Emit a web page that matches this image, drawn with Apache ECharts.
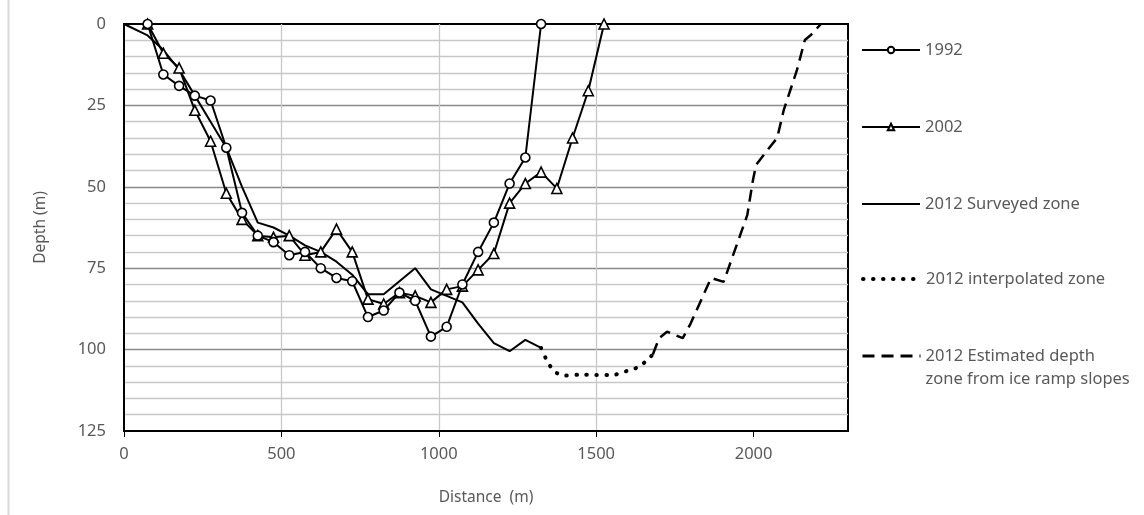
<!DOCTYPE html>
<html>
<head>
<meta charset="utf-8">
<script src="https://cdn.jsdelivr.net/npm/echarts@6/dist/echarts.min.js"></script>
<style>
html,body{margin:0;padding:0;background:#fff;}
#chart{width:1144px;height:515px;}
</style>
</head>
<body>
<div id="chart"></div>
<script>
// ---- data ----
const seriesNames = ['1992', '2002', '2012 Surveyed zone', '2012 interpolated zone', '2012 Estimated depth zone from ice ramp slopes'];

const dist1992 = [75,125,175,225,275,325,375,425,475,525,575,625,675,725,775,825,875,925,975,1025,1075,1125,1175,1225,1275,1325];
const depth1992 = [0,15.5,19,22,23.5,38,58,65,67,71,70,75,78,79,90,88,82.5,85,96,93,80,70,61,49,41,0];

const dist2002 = [75,125,175,225,275,325,375,425,475,525,575,625,675,725,775,825,875,925,975,1025,1075,1125,1175,1225,1275,1325,1375,1425,1475,1525];
const depth2002 = [0,9,13.5,26.5,36,52,60,65,65.5,65,71,70,63,70,84.5,86,82.5,83.5,85.5,81.5,80.5,75.5,70.5,55,49,45.5,50.5,35,20.5,0];

const dist2012s = [0,75,125,175,225,275,325,375,425,475,525,575,625,675,725,775,825,875,925,975,1025,1075,1125,1175,1225,1275,1325];
const depth2012s = [0,3.5,8,14,22,30,38,50,61,62.5,65,68,70,73,77,83,83,79,75,81.5,83.5,85.5,92,98,100.5,97,99.5];

const dist2012i = [1325,1340,1355,1375,1400,1450,1500,1550,1600,1635,1660,1680];
const depth2012i = [99.5,102.7,105.2,107.2,108,107.7,107.8,107.8,106.5,105.3,103.4,101.5];

const dist2012e = [1680,1700,1725,1750,1775,1800,1865,1905,1980,1998,2008,2050,2075,2096,2138,2163,2182,2214];
const depth2012e = [101.5,96.5,94.5,95.5,96.5,92,78,79.2,58.7,48,43.3,38,35,26.4,14.1,4.9,3.4,0];

const xTicks = [0,500,1000,1500,2000];
const yTicks = [0,25,50,75,100,125];

// ---- build ----
function pairs(xs, ys){ return xs.map((x,i)=>[x, ys[i]]); }

const major = '#8a8a8a', minor = '#c8c8c8';
const textColor = '#595959';
const fontFamily = "'Noto Sans', 'Liberation Sans', sans-serif";

const chart = echarts.init(document.getElementById('chart'), null, {renderer:'canvas'});

// legend: one component per entry so each can be placed like the reference
const legendCenters = [50, 127, 204, 279, 356];
const legendFont = 16.5;
const legends = seriesNames.map((n, i) => {
  const twoLine = i === 4;
  const lh = twoLine ? 23 : 20;
  const top = twoLine ? legendCenters[i] - 1.5 * lh : legendCenters[i] - lh / 2;
  const hideSymbol = i >= 2;
  const leg = {
    show: true,
    left: 861,
    top: top,
    padding: 0,
    orient: 'vertical',
    itemWidth: 58,
    itemHeight: 8,
    itemGap: 0,
    selectedMode: false,
    data: [hideSymbol ? {name: n, itemStyle: {opacity: 0}} : {name: n}],
    formatter: (name) => twoLine ? ' \n2012 Estimated depth\nzone from ice ramp slopes' : name,
    textStyle: {color: textColor, fontSize: legendFont, fontFamily, lineHeight: lh}
  };
  if (i === 3) leg.lineStyle = {width: 4, cap: 'round', type: [0.5, 9.5]};
  if (i === 4) leg.lineStyle = {width: 3, type: [12, 7]};
  return leg;
});

const option = {
  animation: false,
  backgroundColor: '#fff',
  grid: {left:124, top:24, width:724, height:407, show:true, borderColor:'#000', borderWidth:2, backgroundColor:'transparent'},
  legend: legends,
  graphic: [{type:'line', shape:{x1:8.5,y1:0,x2:8.5,y2:515}, style:{stroke:'#d9d9d9', lineWidth:2}}],
  xAxis: {
    type:'value', min:0, max:2300, interval:100,
    name:'Distance  (m)', nameLocation:'middle', nameGap:59,
    nameTextStyle:{color:textColor, fontSize:15.5, fontFamily},
    axisLine:{show:true, onZero:false, lineStyle:{color:'#000', width:2}},
    axisTick:{show:true, inside:false, length:6, customValues:xTicks, lineStyle:{color:'#000', width:1}},
    axisLabel:{show:true, customValues:xTicks, margin:15, color:textColor, fontSize:16.5, fontFamily,
               formatter:(v)=>String(v)},
    splitLine:{show:true, showMinLine:false, showMaxLine:false, lineStyle:{color:[minor,minor,minor,minor,major], width:1.3}}
  },
  yAxis: {
    type:'value', inverse:true, min:0, max:125, interval:5,
    name:'Depth (m)', nameLocation:'middle', nameGap:75, nameRotate:90,
    nameTextStyle:{color:textColor, fontSize:15.5, fontFamily},
    axisLine:{show:true, onZero:false, lineStyle:{color:'#000', width:2}},
    axisTick:{show:false},
    axisLabel:{show:true, customValues:yTicks, margin:18, color:textColor, fontSize:16.5, fontFamily,
               formatter:(v)=>String(v)},
    splitLine:{show:true, showMinLine:false, showMaxLine:false, lineStyle:{color:[minor,minor,minor,minor,major], width:1.3}}
  },
  series: [
    {name:seriesNames[0], type:'line', data:pairs(dist1992, depth1992), symbol:'circle', symbolSize:9,
     itemStyle:{color:'#fff', borderColor:'#000', borderWidth:1.6}, lineStyle:{color:'#000', width:2}, z:4},
    {name:seriesNames[1], type:'line', data:pairs(dist2002, depth2002), symbol:'triangle', symbolSize:10,
     itemStyle:{color:'#fff', borderColor:'#000', borderWidth:1.6}, lineStyle:{color:'#000', width:2}, z:3},
    {name:seriesNames[2], type:'line', data:pairs(dist2012s, depth2012s), symbol:'none', showSymbol:false,
     itemStyle:{color:'#000'}, lineStyle:{color:'#000', width:2}, z:2},
    {name:seriesNames[3], type:'line', data:pairs(dist2012i, depth2012i), symbol:'none', showSymbol:false, smooth:0.3,
     itemStyle:{color:'#000'}, lineStyle:{color:'#000', width:4, type:[0.5,9.5], cap:'round'}, z:2},
    {name:seriesNames[4], type:'line', data:pairs(dist2012e, depth2012e), symbol:'none', showSymbol:false,
     itemStyle:{color:'#000'}, lineStyle:{color:'#000', width:2.5, type:[12,7]}, z:2}
  ]
};
chart.setOption(option);
</script>
</body>
</html>
